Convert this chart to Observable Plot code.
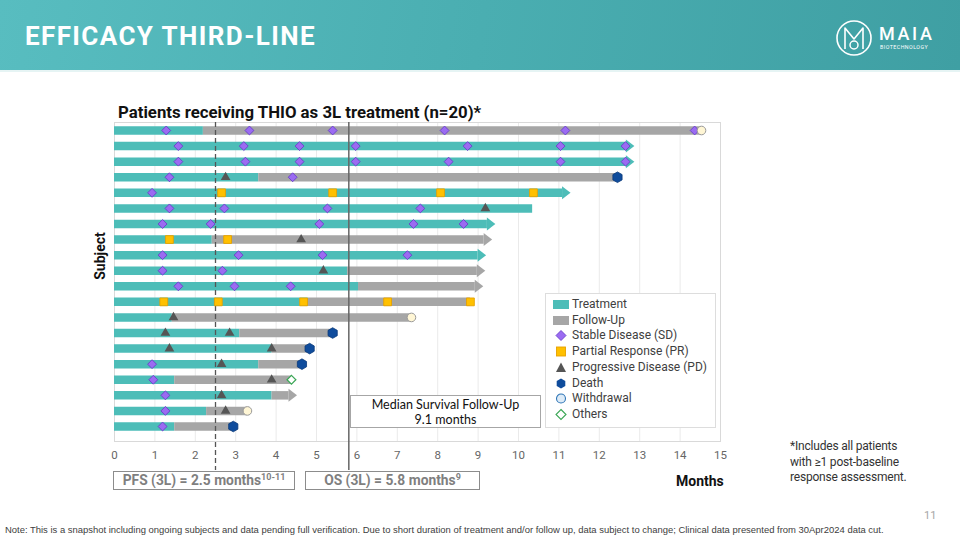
<!DOCTYPE html>
<html>
<head>
<meta charset="utf-8">
<script src="https://cdn.jsdelivr.net/npm/d3@7"></script>
<script src="https://cdn.jsdelivr.net/npm/@observablehq/plot@0.6"></script>
<style>
  body { margin: 0; background: #fff; }
  #page { position: relative; width: 960px; height: 540px; overflow: hidden; background: #fff; font-family: Roboto, "Noto Sans", sans-serif; }
  .abs { position: absolute; white-space: nowrap; }
  #header { position: absolute; left: 0; top: 0; width: 960px; height: 70px;
    background: linear-gradient(100deg, #58BDC0 0%, #4AAEB1 50%, #3F9FA3 100%);
    border-bottom: 2px solid #E6F4F4; }
  #htitle { left: 25px; top: 23px; font-size: 26px; line-height: 27px; font-weight: 700; color: #fff; letter-spacing: 1.4px; }
  #ctitle { left: 118px; top: 103px; font-size: 16.8px; line-height: 18px; font-weight: 700; color: #111; }
  #chart { position: absolute; left: 0; top: 80px; }
  #subject { left: 100px; top: 256px; transform: translate(-50%, -50%) rotate(-90deg); font-size: 14px; font-weight: 700; color: #111; }
  .mbox { position: absolute; box-sizing: border-box; border: 1.5px solid #8C8C8C; background: #fff; color: #7F7F7F;
    font-weight: 700; font-size: 13.8px; line-height: 16px; text-align: center; white-space: nowrap; }
  .mbox sup { font-size: 9px; line-height: 0; vertical-align: 5px; }
  #months { left: 676px; top: 473px; font-size: 14px; line-height: 16px; font-weight: 700; color: #111; }
  #median { position: absolute; left: 350px; top: 395px; width: 191px; height: 33px; box-sizing: border-box;
    border: 1px solid #A6A6A6; background: #fff; text-align: center; font-family: Lato, Roboto, sans-serif; font-size: 12.5px; line-height: 15px; color: #111; padding-top: 1px; }
  #legend { position: absolute; left: 545px; top: 293px; width: 171px; height: 135px; box-sizing: border-box;
    border: 1px solid #DDDDDD; background: #fff; }
  .li { position: absolute; left: 0; height: 16px; font-size: 12px; line-height: 16px; color: #404040; white-space: nowrap; }
  .li svg { position: absolute; left: 7px; top: 1px; }
  .li span { position: absolute; left: 26px; top: 0; }
  #foot { left: 790px; top: 439px; font-size: 12px; line-height: 15.5px; color: #333; letter-spacing: -0.2px; }
  #pnum { left: 924px; top: 509px; font-size: 11px; line-height: 14px; color: #A6A6A6; }
  #note { left: 5px; top: 524px; font-family: "Liberation Sans", Arial, sans-serif; font-size: 9.45px; line-height: 12px; color: #404040; }
</style>
</head>
<body>
<div id="page">
  <div id="header"></div>
  <div id="htitle" class="abs">EFFICACY THIRD-LINE</div>
  <svg class="abs" style="left:830px;top:14px" width="120" height="50" viewBox="830 14 120 50">
    <circle cx="854" cy="38" r="17" fill="none" stroke="#fff" stroke-width="1.6"/>
    <path d="M845,49 L845,28 L854,39 L863,28 L863,49" fill="none" stroke="#fff" stroke-width="1.6" stroke-linejoin="round"/>
    <circle cx="854" cy="45" r="4" fill="none" stroke="#fff" stroke-width="1.5"/>
    <text x="879" y="40" fill="#fff" font-family="Roboto" font-size="18" font-weight="500" letter-spacing="2.6">MAIA</text>
    <text x="880" y="49" fill="#fff" font-family="Roboto" font-size="5.3" letter-spacing="0.45">BIOTECHNOLOGY</text>
  </svg>
  <div id="ctitle" class="abs">Patients receiving THIO as 3L treatment (n=20)*</div>
  <div id="chart"></div>
  <div id="subject" class="abs">Subject</div>
  <div class="mbox" style="left:113px;top:471px;width:182px;height:19px;">PFS (3L) = 2.5 months<sup>10-11</sup></div>
  <div class="mbox" style="left:305px;top:471px;width:175px;height:19px;">OS (3L) = 5.8 months<sup>9</sup></div>
  <div id="months" class="abs">Months</div>
  <div id="median">Median Survival Follow-Up<br>9.1 months</div>
  <div id="legend"></div>
  <div id="foot" class="abs">*Includes all patients<br>with ≥1 post-baseline<br>response assessment.</div>
  <div id="pnum" class="abs">11</div>
  <div id="note" class="abs">Note: This is a snapshot including ongoing subjects and data pending full verification. Due to short duration of treatment and/or follow up, data subject to change; Clinical data presented from 30Apr2024 data cut.</div>
</div>
<script>
// ---------------- data ----------------
const subjects = [1,2,3,4,5,6,7,8,9,10,11,12,13,14,15,16,17,18,19,20];
const treatmentEnd = [2.2, 12.67, 12.67, 3.57, 11.09, 10.35, 9.23, 2.42, 9.0, 5.77, 6.04, 4.8, 1.43, 3.1, 3.9, 3.57, 1.49, 3.9, 2.28, 1.49];
const followUpEnd = [14.53, null, null, 12.45, null, null, null, 9.15, null, 8.98, 8.93, 8.81, 7.35, 5.4, 4.83, 4.64, 4.38, 4.32, 3.29, 2.94];
const ongoing = [false, true, true, false, true, false, true, true, true, true, true, false, false, false, false, false, false, true, false, false];
const endEvent = ["Withdrawal", null, null, "Death", null, null, null, null, null, null, null, null, "Withdrawal", "Death", "Death", "Death", "Others", null, "Withdrawal", "Death"];
const sdMonths = [[1.28,3.34,5.4,8.17,11.16,14.36],[1.58,3.2,4.58,5.97,8.74,11.04,12.65],[1.58,3.24,4.58,5.97,8.27,11.04,12.65],[1.36,4.41],[0.93],[1.36,2.72,5.27,7.57],[1.19,2.38,5.07,7.4,8.64],[],[1.19,3.07,5.15,7.25],[1.19,2.67],[1.58,2.97,4.36],[],[],[],[],[0.93],[0.96],[1.26],[1.26],[1.19]];
const prMonths = [[],[],[],[],[2.65,5.4,8.07,10.37],[],[],[1.36,2.8],[],[],[],[1.22,2.57,4.68,6.76,8.81],[],[],[],[],[],[],[],[]];
const pdMonths = [[],[],[],[2.75],[],[9.18],[],[4.62],[],[5.17],[],[],[1.46],[1.26,2.85],[1.36,3.89],[2.65],[3.89],[2.65],[2.75],[]];
const xTicks = [0,1,2,3,4,5,6,7,8,9,10,11,12,13,14,15];
const pfsMedian = 2.5;
const osMedian = 5.8;
const legendLabels = ["Treatment","Follow-Up","Stable Disease (SD)","Partial Response (PR)","Progressive Disease (PD)","Death","Withdrawal","Others"];

// ---------------- styles ----------------
const C = {
  teal: "#4DBDB8", gray: "#A6A6A6",
  sdFill: "#9B6BF2", sdStroke: "#6A3FC9",
  prFill: "#FFC000", prStroke: "#E6A100",
  pd: "#555555",
  death: "#0F4C9C", deathStroke: "#0A3A7A",
  wdFill: "#FFF6D5", wdStroke: "#9A9A9A",
  other: "#3AA655"
};

// ---------------- tidy tables ----------------
const rows = subjects.map((s, i) => ({subject: s, treatEnd: treatmentEnd[i], fuEnd: followUpEnd[i], ongoing: ongoing[i], event: endEvent[i]}));
const flat = (arr) => arr.flatMap((ms, i) => ms.map(m => ({subject: subjects[i], month: m})));
const sd = flat(sdMonths), pr = flat(prMonths), pd = flat(pdMonths);
const events = rows.filter(d => d.event).map(d => ({subject: d.subject, month: d.fuEnd, event: d.event}));

// layout (pixels inside the svg)
const H = 420, TOP = 42, BOTTOM = 361, ROW1 = 50, ROW20 = 346, LINE_END = 390;
const step = (ROW20 - ROW1) / 19;
const yAt = (px) => 1 + (px - ROW1) / step;

const arrowHead = { draw(ctx) { ctx.moveTo(-0.5, -6.5); ctx.lineTo(8, 0); ctx.lineTo(-0.5, 6.5); ctx.closePath(); } };

const plot = Plot.plot({
  width: 960, height: H,
  marginLeft: 114, marginRight: 240, marginTop: TOP, marginBottom: H - BOTTOM,
  x: {domain: [0, 15]},
  y: {domain: [1, 20], range: [ROW1, ROW20], axis: null},
  style: {fontFamily: "Roboto, sans-serif", fontSize: "11.5px", color: "#666", background: "transparent", overflow: "visible"},
  marks: [
    Plot.gridX(xTicks, {stroke: "#EAEAEA", strokeOpacity: 1}),
    Plot.frame({stroke: "#D9D9D9"}),
    Plot.axisX(xTicks, {tickSize: 0, tickPadding: 9, tickFormat: d => String(d), fill: "#666"}),
    Plot.ruleY(rows, {y: "subject", x1: 0, x2: "treatEnd", stroke: C.teal, strokeWidth: 8.5}),
    Plot.ruleY(rows.filter(d => d.fuEnd != null), {y: "subject", x1: "treatEnd", x2: "fuEnd", stroke: C.gray, strokeWidth: 8.5}),
    Plot.dot(rows.filter(d => d.ongoing && d.fuEnd == null), {x: "treatEnd", y: "subject", symbol: arrowHead, r: 4, fill: C.teal, stroke: "none"}),
    Plot.dot(rows.filter(d => d.ongoing && d.fuEnd != null), {x: "fuEnd", y: "subject", symbol: arrowHead, r: 4, fill: C.gray, stroke: "none"}),
    Plot.ruleX([pfsMedian], {y1: yAt(TOP), y2: yAt(LINE_END), stroke: "#555", strokeWidth: 1.3, strokeDasharray: "5,3"}),
    Plot.ruleX([osMedian], {y1: yAt(TOP), y2: yAt(LINE_END), stroke: "#666", strokeWidth: 1.5}),
    Plot.dot(sd, {x: "month", y: "subject", symbol: "diamond2", r: 4, fill: C.sdFill, stroke: C.sdStroke, strokeWidth: 0.9}),
    Plot.dot(pr, {x: "month", y: "subject", symbol: "square", r: 4.4, fill: C.prFill, stroke: C.prStroke, strokeWidth: 0.9}),
    Plot.dot(pd, {x: "month", y: "subject", symbol: "triangle", r: 3.6, fill: C.pd, stroke: "none"}),
    Plot.dot(events.filter(d => d.event === "Death"), {x: "month", y: "subject", symbol: "hexagon", r: 4.6, fill: C.death, stroke: C.deathStroke, strokeWidth: 0.8}),
    Plot.dot(events.filter(d => d.event === "Withdrawal"), {x: "month", y: "subject", symbol: "circle", r: 4.3, fill: C.wdFill, stroke: C.wdStroke, strokeWidth: 1}),
    Plot.dot(events.filter(d => d.event === "Others"), {x: "month", y: "subject", symbol: "diamond2", r: 4, fill: "#fff", stroke: C.other, strokeWidth: 1.2})
  ]
});
document.getElementById("chart").appendChild(plot);

// ---------------- legend ----------------
const sw = {
  "Treatment": `<rect x="0" y="3" width="16" height="9" fill="${C.teal}"/>`,
  "Follow-Up": `<rect x="0" y="3" width="16" height="9" fill="${C.gray}"/>`,
  "Stable Disease (SD)": `<path d="M8,2.5 L13,7.5 L8,12.5 L3,7.5Z" fill="${C.sdFill}" stroke="${C.sdStroke}" stroke-width="0.9"/>`,
  "Partial Response (PR)": `<rect x="3.5" y="3" width="9" height="9" fill="${C.prFill}" stroke="${C.prStroke}" stroke-width="0.9"/>`,
  "Progressive Disease (PD)": `<path d="M8,2.5 L13,12 L3,12Z" fill="${C.pd}"/>`,
  "Death": `<path d="M8,2.5 L12.3,5 L12.3,10 L8,12.5 L3.7,10 L3.7,5Z" fill="${C.death}"/>`,
  "Withdrawal": `<circle cx="8" cy="7.5" r="4.5" fill="#DDEBF7" stroke="#2E75B6" stroke-width="1.1"/>`,
  "Others": `<path d="M8,2.5 L13,7.5 L8,12.5 L3,7.5Z" fill="#fff" stroke="${C.other}" stroke-width="1.1"/>`
};
const leg = document.getElementById("legend");
legendLabels.forEach((lab, i) => {
  const d = document.createElement("div");
  d.className = "li";
  d.style.top = (2 + i * 15.7) + "px";
  d.innerHTML = `<svg width="16" height="15">${sw[lab]}</svg><span>${lab}</span>`;
  leg.appendChild(d);
});
</script>
</body>
</html>
